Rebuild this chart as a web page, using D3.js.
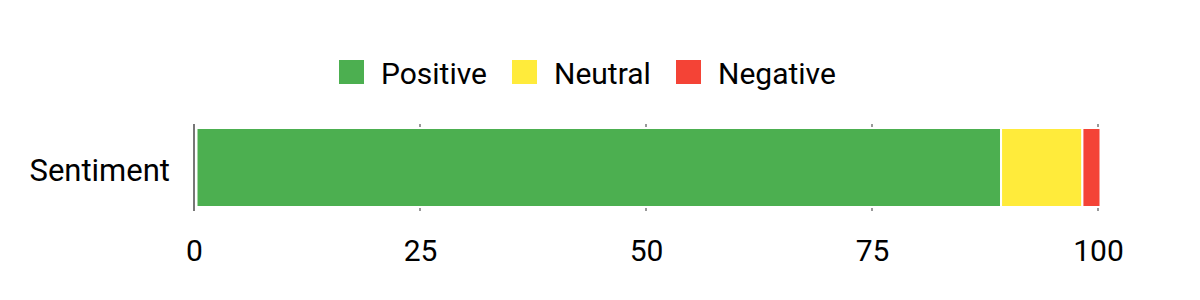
<!DOCTYPE html>
<html>
<head>
<meta charset="utf-8">
<script src="https://cdn.jsdelivr.net/npm/d3@7"></script>
<style>
  body { margin: 0; background: #fff; }
  svg { display: block; font-family: Roboto, sans-serif; }
</style>
</head>
<body>
<svg></svg>
<script>
const width = 1200;
const height = 300;

// data
const categories = ["Sentiment"];
const seriesNames = ["Positive", "Neutral", "Negative"];
const seriesValues = [89, 9, 2];
const seriesColors = ["#4caf50", "#ffeb3b", "#f44336"];
const tickValues = [0, 25, 50, 75, 100];

let svg = d3.select("svg")
     .attr("width", width)
     .attr("height", height);

let scaleX = d3.scaleLinear()
     .domain([0, 100])
     .range([194, 1098]);

let scaleY = d3.scaleBand()
     .domain(categories)
     .range([128, 207]);

// stacked segments
let stacked = [];
let acc = 0;
seriesValues.forEach((v, i) => {
    stacked.push({ name: seriesNames[i], x0: acc, x1: acc + v, color: seriesColors[i] });
    acc += v;
});

// gridlines (drawn under bars, show above and below)
svg.append("g")
     .selectAll("line")
     .data(tickValues.slice(1))
     .enter()
     .append("line")
     .attr("x1", d => scaleX(d))
     .attr("x2", d => scaleX(d))
     .attr("y1", scaleY.range()[0] - 4)
     .attr("y2", scaleY.range()[1] + 4)
     .attr("stroke", "#999")
     .attr("stroke-width", 2);

svg.append("g")
     .attr("transform", "translate(2.5, 0)")
     .selectAll("rect")
     .data(stacked)
     .enter()
     .append("rect")
     .attr("x", d => scaleX(d.x0))
     .attr("y", scaleY("Sentiment"))
     .attr("width", d => scaleX(d.x1) - scaleX(d.x0))
     .attr("height", scaleY.bandwidth())
     .attr("fill", d => d.color)
     .attr("stroke", "white")
     .attr("stroke-width", 2);

// baseline (left axis)
svg.append("line")
     .attr("x1", scaleX(0))
     .attr("x2", scaleX(0))
     .attr("y1", scaleY.range()[0] - 4)
     .attr("y2", scaleY.range()[1] + 4)
     .attr("stroke", "#777")
     .attr("stroke-width", 2);

// x tick labels
let axisX = d3.axisBottom(scaleX)
     .tickValues(tickValues)
     .tickSize(0)
     .tickPadding(0);

let gx = svg.append("g")
     .attr("transform", "translate(0, 240)")
     .call(axisX);
gx.select(".domain").remove();
gx.selectAll("text")
     .attr("dy", "0.71em")
     .style("font-family", "Roboto, sans-serif")
     .style("font-size", "30px")
     .attr("fill", "#000");

// y category label
let axisY = d3.axisLeft(scaleY).tickSize(0).tickPadding(24);
let gy = svg.append("g")
     .attr("transform", `translate(${scaleX(0)}, 4)`)
     .call(axisY);
gy.select(".domain").remove();
gy.selectAll("text")
     .style("font-family", "Roboto, sans-serif")
     .style("font-size", "31px")
     .attr("fill", "#000");

// legend
const legendX = [339, 512, 676];
let legend = svg.append("g")
     .selectAll("g")
     .data(seriesNames)
     .enter()
     .append("g")
     .attr("transform", (d, i) => `translate(${legendX[i]}, 60)`);

legend.append("rect")
     .attr("width", 25)
     .attr("height", 24)
     .attr("fill", (d, i) => seriesColors[i]);

legend.append("text")
     .attr("x", 42)
     .attr("y", 23.5)
     .style("font-size", "30px")
     .attr("fill", "#000")
     .text(d => d);
</script>
</body>
</html>
